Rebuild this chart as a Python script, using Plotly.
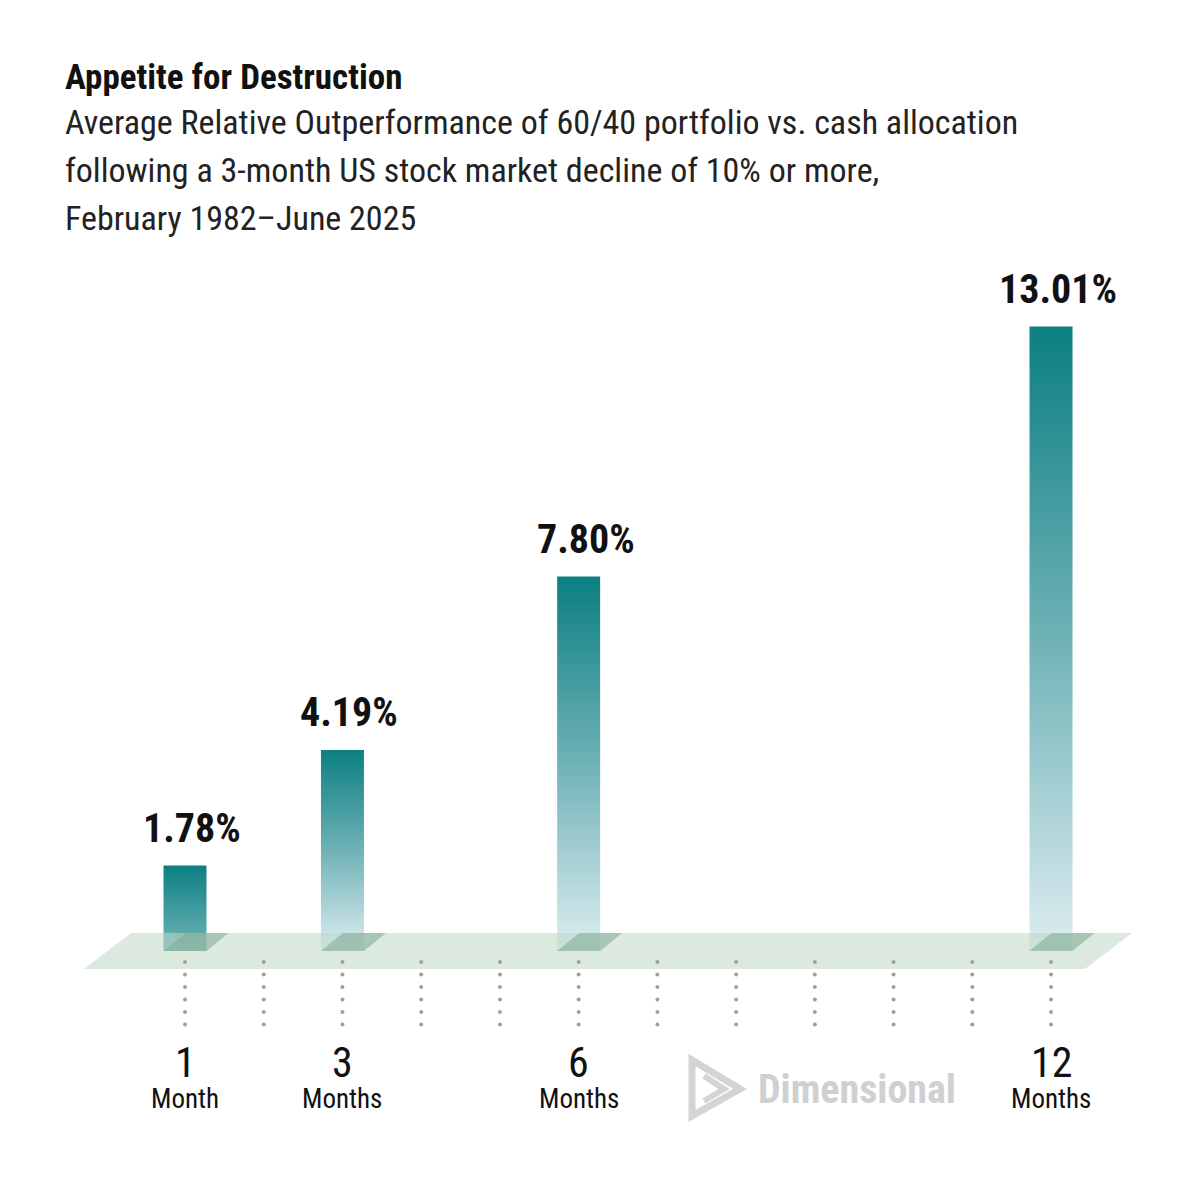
import plotly.graph_objects as go

# ---------------- data ----------------
MONTHS = [1, 3, 6, 12]
VALUES = [1.78, 4.19, 7.80, 13.01]
VALUE_LABELS = ["1.78%", "4.19%", "7.80%", "13.01%"]
NUMBER_LABELS = ["1", "3", "6", "12"]
UNIT_LABELS = ["Month", "Months", "Months", "Months"]
TICK_MONTHS = list(range(1, 13))

TITLE = "Appetite for Destruction"
SUBTITLE_LINES = [
    "Average Relative Outperformance of 60/40 portfolio vs. cash allocation",
    "following a 3-month US stock market decline of 10% or more,",
    "February 1982\u2013June 2025",
]

# ---------------- layout constants ----------------
W = H = 1200
X0_PX = 185.0        # pixel of month 1
PX_PER_MONTH = 78.73
Y0_PX = 951.0        # pixel of 0 %
PX_PER_PCT = 48.0

XR = [1 - X0_PX / PX_PER_MONTH, 1 + (W - X0_PX) / PX_PER_MONTH]
YR = [-(H - Y0_PX) / PX_PER_PCT, Y0_PX / PX_PER_PCT]

def dx(px):  # pixel width -> months
    return px / PX_PER_MONTH

def dy(px):  # pixel height -> percent
    return px / PX_PER_PCT

def xd(px):  # pixel x -> data
    return 1 + (px - X0_PX) / PX_PER_MONTH

def yd(py):  # pixel y -> data
    return (Y0_PX - py) / PX_PER_PCT

def xp(px):
    return px / W

def yp(py):
    return 1 - py / H

FONT = "Liberation Sans Narrow, Arial Narrow, Roboto Condensed, DejaVu Sans Condensed, Liberation Sans, sans-serif"
TEAL = "#0b7f82"
LIGHT = "#ddedf1"
BAR_HALF = dx(21.5)
SH_DX = dx(22)
SH_DY = dy(18)
GRAD_MIN = 3.4

fig = go.Figure()

# bars with vertical gradient
for m, v in zip(MONTHS, VALUES):
    fig.add_trace(go.Scatter(
        x=[m - BAR_HALF, m + BAR_HALF, m + BAR_HALF, m - BAR_HALF, m - BAR_HALF],
        y=[0, 0, v, v, 0],
        mode="lines", line=dict(width=0), fill="toself",
        fillgradient=dict(type="vertical",
                          colorscale=[[0, LIGHT], [0.5, "#6fb2b6"], [1, TEAL]],
                          start=min(0, v - GRAD_MIN), stop=v),
        hoverinfo="skip", showlegend=False,
    ))

# floor plane (drawn over bars, semi transparent)
floor = dict(tl=(131, 933), tr=(1132, 933), br=(1085, 969), bl=(84, 969))
fx = [xd(p[0]) for p in (floor["tl"], floor["tr"], floor["br"], floor["bl"], floor["tl"])]
fy = [yd(p[1]) for p in (floor["tl"], floor["tr"], floor["br"], floor["bl"], floor["tl"])]
fig.add_trace(go.Scatter(x=fx, y=fy, mode="lines", line=dict(width=0), fill="toself",
                         fillcolor="rgba(190,215,196,0.55)", hoverinfo="skip", showlegend=False))

# bar shadows on the floor
for m in MONTHS:
    sx = [m - BAR_HALF, m + BAR_HALF, m + BAR_HALF + SH_DX, m - BAR_HALF + SH_DX, m - BAR_HALF]
    sy = [0, 0, SH_DY, SH_DY, 0]
    fig.add_trace(go.Scatter(x=sx, y=sy, mode="lines", line=dict(width=0), fill="toself",
                             fillcolor="rgba(125,170,148,0.55)", hoverinfo="skip", showlegend=False))

# dotted guide lines
dot_y = [yd(962 + k * 12.5) for k in range(6)]
for m in TICK_MONTHS:
    fig.add_trace(go.Scatter(x=[m] * len(dot_y), y=dot_y, mode="markers",
                             marker=dict(size=4, color="#a0a0a0"),
                             hoverinfo="skip", showlegend=False))

annotations = []
# value labels
for m, v, t in zip(MONTHS, VALUES, VALUE_LABELS):
    annotations.append(dict(x=m + dx(7), y=v, xref="x", yref="y", text=f"<b>{t}</b>",
                            showarrow=False, yanchor="bottom", xanchor="center", yshift=12,
                            font=dict(family=FONT, size=40, color="#111111")))
# category labels
for m, n, u in zip(MONTHS, NUMBER_LABELS, UNIT_LABELS):
    annotations.append(dict(x=m, y=yp(1062), xref="x", yref="paper", text=n, showarrow=False,
                            yanchor="middle", font=dict(family=FONT, size=42, color="#111111")))
    annotations.append(dict(x=m, y=yp(1099), xref="x", yref="paper", text=u, showarrow=False,
                            yanchor="middle", font=dict(family=FONT, size=27, color="#111111")))

# titles
annotations.append(dict(x=xp(63), y=yp(78), xref="paper", yref="paper", text=f"<b>{TITLE}</b>",
                        showarrow=False, xanchor="left", yanchor="middle",
                        font=dict(family=FONT, size=35, color="#111111")))
for i, line in enumerate(SUBTITLE_LINES):
    annotations.append(dict(x=xp(63), y=yp(122 + 48 * i), xref="paper", yref="paper", text=line,
                            showarrow=False, xanchor="left", yanchor="middle",
                            font=dict(family=FONT, size=34, color="#222222")))

# logo text
annotations.append(dict(x=xp(756), y=yp(1089), xref="paper", yref="paper", text="<b>Dimensional</b>",
                        showarrow=False, xanchor="left", yanchor="middle",
                        font=dict(family=FONT, size=40, color="#d0d0d0")))

shapes = [
    dict(type="path", xref="paper", yref="paper",
         path=f"M {xp(692)},{yp(1060)} L {xp(740)},{yp(1089)} L {xp(692)},{yp(1116)} Z",
         line=dict(color="#d4d4d4", width=7), fillcolor="rgba(0,0,0,0)"),
    dict(type="path", xref="paper", yref="paper",
         path=f"M {xp(704)},{yp(1076)} L {xp(724)},{yp(1089)} L {xp(704)},{yp(1101)}",
         line=dict(color="#d4d4d4", width=6), fillcolor="rgba(0,0,0,0)"),
]

fig.update_layout(
    width=W, height=H, autosize=False,
    margin=dict(l=0, r=0, t=0, b=0, pad=0),
    paper_bgcolor="white", plot_bgcolor="white",
    xaxis=dict(range=XR, visible=False, fixedrange=True),
    yaxis=dict(range=YR, visible=False, fixedrange=True),
    annotations=annotations, shapes=shapes, showlegend=False,
)

fig.write_html("out.html")
